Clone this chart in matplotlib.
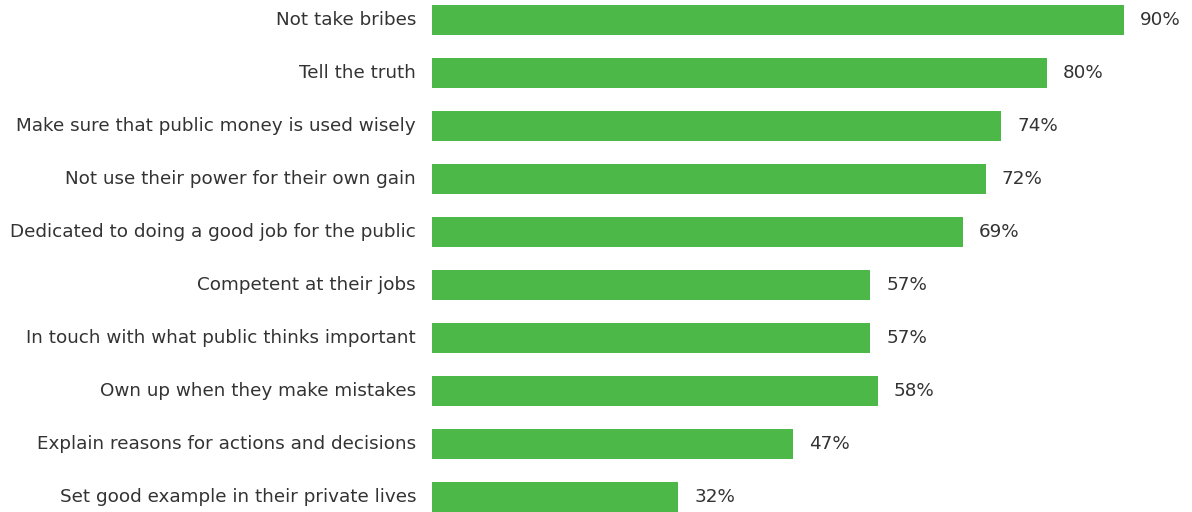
import matplotlib
matplotlib.use("Agg")
import matplotlib.pyplot as plt
from matplotlib.transforms import offset_copy

categories = [
    "Not take bribes",
    "Tell the truth",
    "Make sure that public money is used wisely",
    "Not use their power for their own gain",
    "Dedicated to doing a good job for the public",
    "Competent at their jobs",
    "In touch with what public thinks important",
    "Own up when they make mistakes",
    "Explain reasons for actions and decisions",
    "Set good example in their private lives",
]
values = [90, 80, 74, 72, 69, 57, 57, 58, 47, 32]

W, H, DPI = 1192, 512, 100
fig = plt.figure(figsize=(W / DPI, H / DPI), dpi=DPI)
left = 432 / W
ax = fig.add_axes([left, 0, 1 - left, 1])

bar_color = "#4cb848"
text_color = "#333333"
fs = 13.25

pos = list(range(len(categories)))
ax.barh(pos, values, height=0.57, color=bar_color)
ax.set_xlim(0, (W - 432) / 7.69)
ax.set_ylim(492 / 53, -20 / 53)
ax.axis("off")

lab_tr = offset_copy(ax.transData, fig=fig, x=-16, y=0, units="dots")
val_tr = offset_copy(ax.transData, fig=fig, x=16, y=0, units="dots")
for p, cat, v in zip(pos, categories, values):
    ax.text(0, p, cat, transform=lab_tr, ha="right", va="center",
            fontsize=fs, color=text_color, family="DejaVu Sans", clip_on=False)
    ax.text(v, p, f"{v}%", transform=val_tr, ha="left", va="center",
            fontsize=fs, color=text_color, family="DejaVu Sans", clip_on=False)

fig.savefig("out.png", dpi=DPI)
